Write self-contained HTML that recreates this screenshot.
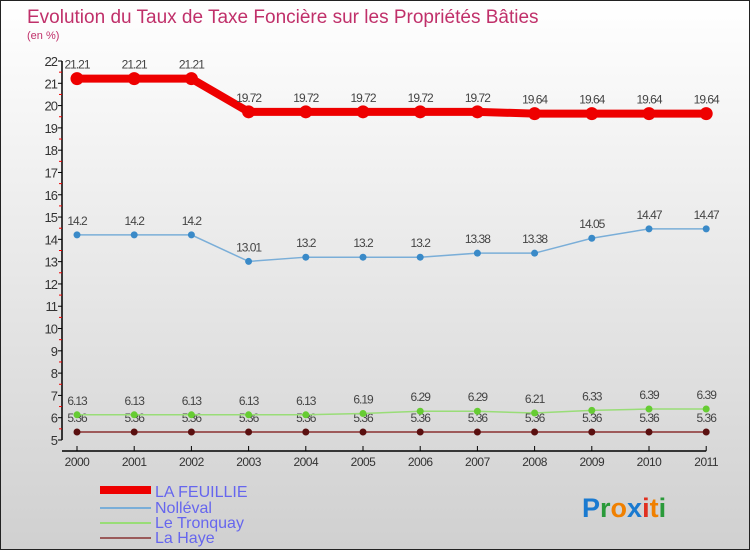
<!DOCTYPE html>
<html><head><meta charset="utf-8"><style>
body{margin:0}
#c{width:750px;height:550px;position:relative;background:linear-gradient(#ffffff,#d0d0d0);box-sizing:border-box;border:1px solid #222;overflow:hidden;font-family:"Liberation Sans",sans-serif}
</style></head><body>
<div id="c">
<svg id="s" width="750" height="550" style="position:absolute;left:-1px;top:-1px">
<text x="27" y="23" font-size="19" fill="#c0306a">Evolution du Taux de Taxe Foncière sur les Propriétés Bâties</text>
<text x="27" y="39" font-size="11" fill="#c0306a">(en %)</text>
<g id="axes"></g><g id="series"></g>
<g>
<rect x="100" y="486" width="51" height="8" fill="#ee0000"/>
<text x="155" y="497" font-size="16" fill="#6666ee">LA FEUILLIE</text>
<rect x="100" y="507" width="51" height="2" fill="#7aaed8"/>
<text x="155" y="513" font-size="16" fill="#6666ee">Nolléval</text>
<rect x="100" y="522" width="51" height="2" fill="#99dd77"/>
<text x="155" y="528" font-size="16" fill="#6666ee">Le Tronquay</text>
<rect x="100" y="537" width="51" height="2" fill="#9a5a5a"/>
<text x="155" y="543" font-size="16" fill="#6666ee">La Haye</text>
</g>
<text x="582" y="517" font-size="27" font-weight="bold"><tspan fill="#1a7ad0">P</tspan><tspan fill="#2a9a3a">r</tspan><tspan fill="#f08000">o</tspan><tspan fill="#1a7ad0">x</tspan><tspan fill="#e03020">i</tspan><tspan fill="#f08000">t</tspan><tspan fill="#2a9a3a">i</tspan></text>
</svg>
</div>
<script>
const years=[2000,2001,2002,2003,2004,2005,2006,2007,2008,2009,2010,2011];
const feuillie=[21.21,21.21,21.21,19.72,19.72,19.72,19.72,19.72,19.64,19.64,19.64,19.64];
const nolleval=[14.2,14.2,14.2,13.01,13.2,13.2,13.2,13.38,13.38,14.05,14.47,14.47];
const tronquay=[6.13,6.13,6.13,6.13,6.13,6.19,6.29,6.29,6.21,6.33,6.39,6.39];
const haye=[5.36,5.36,5.36,5.36,5.36,5.36,5.36,5.36,5.36,5.36,5.36,5.36];
const yTicks=[5,6,7,8,9,10,11,12,13,14,15,16,17,18,19,20,21,22];
const NS="http://www.w3.org/2000/svg";
const X=i=>77+i*57.2, Y=v=>440-(v-5)*(379/17);
function mk(t,a,p){const e=document.createElementNS(NS,t);for(const k in a)e.setAttribute(k,a[k]);p.appendChild(e);return e;}
const ax=document.getElementById('axes'), sg=document.getElementById('series');
let e=mk('line',{x1:62,y1:Y(22),x2:62,y2:Y(5),stroke:'#000','stroke-width':1.5},ax);

e=mk('line',{x1:62,y1:451,x2:X(11),y2:451,stroke:'#000','stroke-width':1.5},ax);

yTicks.forEach(v=>{
 mk('line',{x1:58,y1:Y(v),x2:62,y2:Y(v),stroke:'#000'},ax);
 if(v<22)mk('line',{x1:59,y1:Y(v+0.5),x2:62,y2:Y(v+0.5),stroke:'#e00'},ax);
 const t=mk('text',{x:57,y:Y(v)+5,'font-size':13,'text-anchor':'end',fill:'#333','letter-spacing':'-1'},ax);
 t.textContent=v;
});
years.forEach((y,i)=>{
 mk('line',{x1:X(i),y1:446,x2:X(i),y2:451,stroke:'#000'},ax);
 const t=mk('text',{x:X(i),y:466,'font-size':12,'text-anchor':'middle',fill:'#333','letter-spacing':'-0.5'},ax);
 t.textContent=y;
});
function series(d,name,col,w,r,dot){
 const p=mk('polyline',{points:d.map((v,i)=>X(i)+','+Y(v)).join(' '),fill:'none',stroke:col,'stroke-width':w},sg);
 
 d.forEach((v,i)=>{
  const c=mk('circle',{cx:X(i),cy:Y(v),r:r,fill:dot},sg);
  
  const t=mk('text',{x:X(i),y:Y(v)-10,'font-size':12,'text-anchor':'middle',fill:'#444','letter-spacing':'-1'},sg);
  t.textContent=v;
 });
}
series(haye,'la-haye','#8a3030',1.5,3.5,'#5a1010');
series(tronquay,'le-tronquay','#99dd77',1.5,3.5,'#66cc33');
series(nolleval,'nolleval','#7aaed8',1.5,3.5,'#3a8ac8');
series(feuillie,'la-feuillie','#ee0000',8,6.5,'#ee0000');
</script>
</body></html>
